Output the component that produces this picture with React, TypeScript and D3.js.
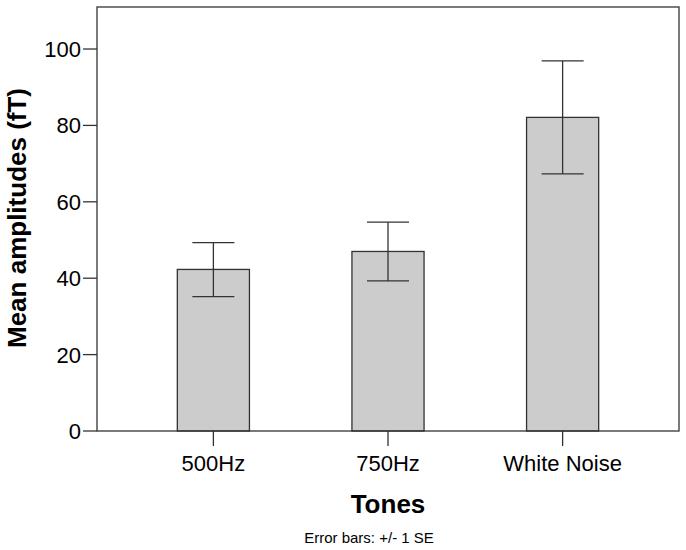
import React from 'react'
import * as d3 from 'd3'

const tones = ['500Hz', '750Hz', 'White Noise']
const means = [42.3, 47.0, 82.1]
const errLow = [35.2, 39.3, 67.3]
const errHigh = [49.3, 54.7, 96.9]
const yTicks = [0, 20, 40, 60, 80, 100]

const W = 686
const H = 550
const left = 97
const right = 679
const top = 7
const bottom = 431
const ink = '#333333'
const font = 'Arial, "Liberation Sans", sans-serif'

const App: React.FC = () => {
  const x = d3.scaleBand<string>()
    .domain(tones)
    .range([left, right])
    .paddingInner(0.587)
    .paddingOuter(0.46)

  const y = d3.scaleLinear()
    .domain([0, 111])
    .range([bottom, top])

  const capHalf = 21

  return (
    <svg width={W} height={H} style={{ position: 'absolute', left: 0, top: 0, background: '#fff' }}>
      {/* bars */}
      {tones.map((t, i) => (
        <rect
          key={t}
          x={x(t)}
          y={y(means[i])}
          width={x.bandwidth()}
          height={y(0) - y(means[i])}
          fill="#cccccc"
          stroke={ink}
          strokeWidth={1.3}
        />
      ))}

      {/* error bars */}
      {tones.map((t, i) => {
        const cx = (x(t) as number) + x.bandwidth() / 2
        return (
          <g key={t} stroke={ink} strokeWidth={1.3}>
            <line x1={cx} x2={cx} y1={y(errLow[i])} y2={y(errHigh[i])} />
            <line x1={cx - capHalf} x2={cx + capHalf} y1={y(errHigh[i])} y2={y(errHigh[i])} />
            <line x1={cx - capHalf} x2={cx + capHalf} y1={y(errLow[i])} y2={y(errLow[i])} />
          </g>
        )
      })}

      {/* frame */}
      <rect x={left} y={top} width={right - left} height={bottom - top} fill="none" stroke={ink} strokeWidth={1.3} />

      {/* y ticks */}
      {yTicks.map(v => (
        <g key={v}>
          <line x1={left - 14} x2={left} y1={y(v)} y2={y(v)} stroke={ink} strokeWidth={1.3} />
          <text
            x={left - 16}
            y={y(v)}
            dy="0.36em"
            textAnchor="end"
            fontFamily={font}
            fontSize={22}
            fill="#000"
          >
            {v}
          </text>
        </g>
      ))}

      {/* x ticks */}
      {tones.map(t => {
        const cx = (x(t) as number) + x.bandwidth() / 2
        return (
          <g key={t}>
            <line x1={cx} x2={cx} y1={bottom} y2={bottom + 15} stroke={ink} strokeWidth={1.3} />
            <text x={cx} y={471} textAnchor="middle" fontFamily={font} fontSize={22} fill="#000">
              {t}
            </text>
          </g>
        )
      })}

      {/* axis titles */}
      <text
        transform={`translate(26, 218) rotate(-90)`}
        textAnchor="middle"
        fontFamily={font}
        fontSize={26}
        fontWeight="bold"
        fill="#000"
      >
        Mean amplitudes (fT)
      </text>
      <text x={388} y={513} textAnchor="middle" fontFamily={font} fontSize={26} fontWeight="bold" fill="#000">
        Tones
      </text>
      <text x={369} y={543} textAnchor="middle" fontFamily={font} fontSize={15} fill="#000">
        Error bars: +/- 1 SE
      </text>
    </svg>
  )
}

export default App
